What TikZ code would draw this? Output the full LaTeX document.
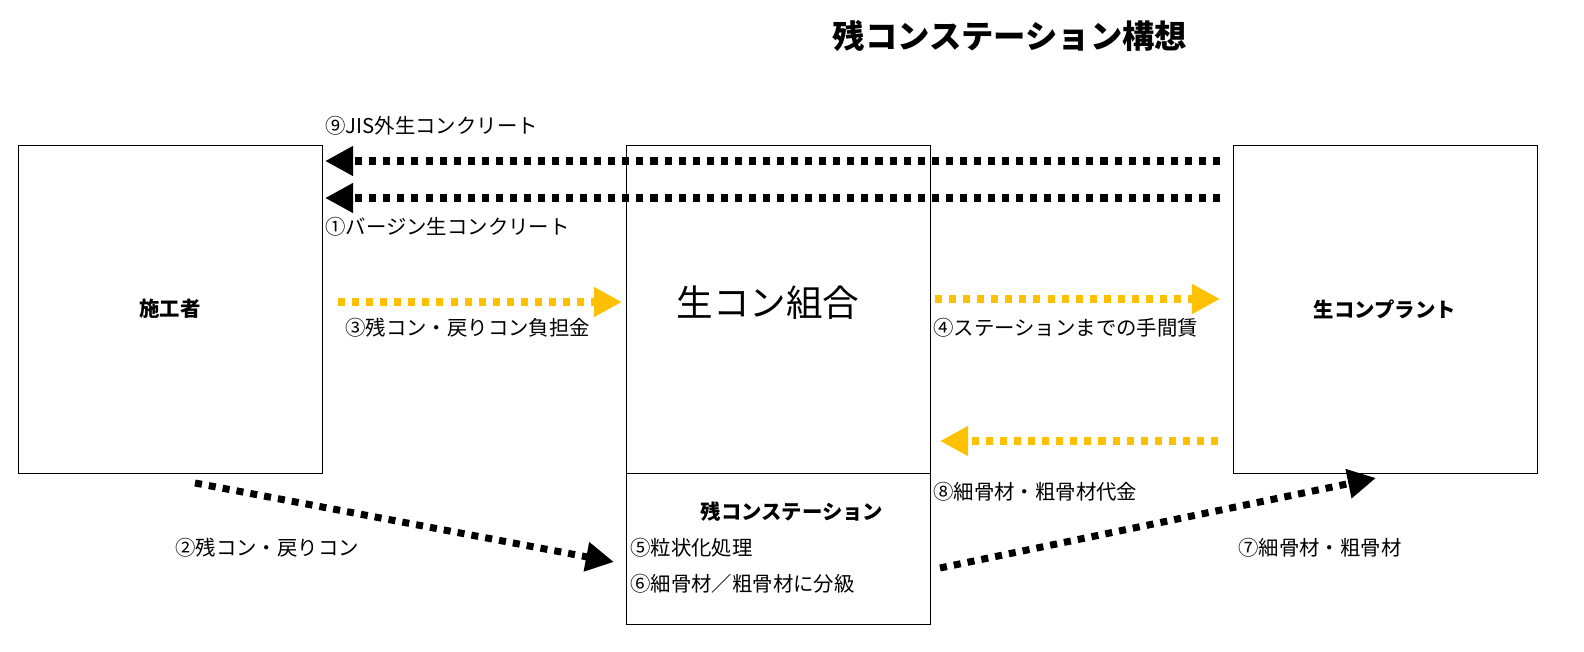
\documentclass[tikz,border=0pt]{standalone}
\usepackage{fontspec}
\setmainfont{Noto Sans CJK JP}
\usetikzlibrary{arrows.meta}
\definecolor{konorange}{HTML}{FFC000}
\begin{document}
\begin{tikzpicture}[x=0.025cm,y=-0.025cm,
			box/.style={draw,line width=0.8pt,rectangle,inner sep=0pt},
			lbl/.style={anchor=west,inner sep=0pt,font=\fontsize{14.5}{17}\selectfont},
			flow/.style={line width=5pt,dash pattern=on 5pt off 5pt,-{Triangle[length=20pt,width=20pt]}},
			blackflow/.style={flow,black},
			orangeflow/.style={flow,konorange}]
			\useasboundingbox (0,0) rectangle (1584,651);
			\node (title) at (1010,36) {\fontsize{23}{26}\selectfont\bfseries 残コンステーション構想};
			% boxes
			\draw (18,145) rectangle (322,473) node (sekou) [midway] {\fontsize{14.5}{17}\selectfont\bfseries 施工者};
			\draw (626,145) rectangle (930,473);
			\node (kumiai) at (768,303) {\fontsize{26}{30}\selectfont 生コン組合};
			\draw (626,473) rectangle (930,624);
			\node (station) at (792,512) {\fontsize{14.5}{17}\selectfont\bfseries 残コンステーション};
			\draw (1233,145) rectangle (1537,473) node (plant) [midway] {\fontsize{14.5}{17}\selectfont\bfseries 生コンプラント};
			% flow ends
			\coordinate (a9s) at (1220,161); \coordinate (a9e) at (325,161);
			\coordinate (a1s) at (1220,198); \coordinate (a1e) at (325,198);
			\coordinate (a3s) at (338,302); \coordinate (a3e) at (622,302);
			\coordinate (a4s) at (935,299); \coordinate (a4e) at (1220,299);
			\coordinate (a8s) at (1218,441); \coordinate (a8e) at (940,441);
			\coordinate (a2s) at (195,483); \coordinate (a2e) at (614,562);
			\coordinate (a7s) at (940,568); \coordinate (a7e) at (1376,478);
			\draw [blackflow] (a9s) -- (a9e);
			\draw [blackflow] (a1s) -- (a1e);
			\draw [orangeflow] (a3s) -- (a3e);
			\draw [orangeflow] (a4s) -- (a4e);
			\draw [orangeflow] (a8s) -- (a8e);
			\draw [blackflow] (a2s) -- (a2e);
			\draw [blackflow] (a7s) -- (a7e);
			% labels
			\node (l9) [lbl] at (325,126) {⑨JIS外生コンクリート};
			\node (l1) [lbl] at (325,227) {①バージン生コンクリート};
			\node (l3) [lbl] at (345,328) {③残コン・戻りコン負担金};
			\node (l4) [lbl] at (933,328) {④ステーションまでの手間賃};
			\node (l8) [lbl] at (933,492) {⑧細骨材・粗骨材代金};
			\node (l2) [lbl] at (175,548) {②残コン・戻りコン};
			\node (l7) [lbl] at (1238,548) {⑦細骨材・粗骨材};
			\node (l5) [lbl] at (630,548) {⑤粒状化処理};
			\node (l6) [lbl] at (630,584) {⑥細骨材／粗骨材に分級};
		\end{tikzpicture}
\end{document}
